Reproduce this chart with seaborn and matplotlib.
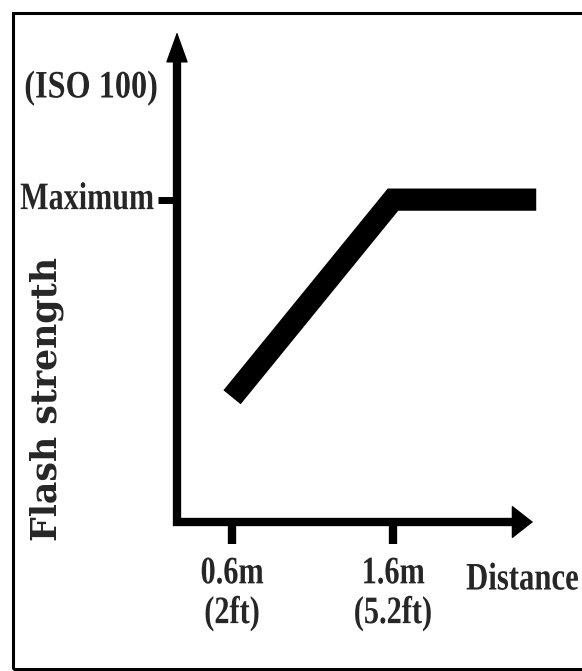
import matplotlib
matplotlib.use("Agg")
import matplotlib.pyplot as plt
import seaborn as sns
import pandas as pd
from matplotlib.patches import Rectangle
from matplotlib.patheffects import AbstractPathEffect
from matplotlib.transforms import Affine2D, blended_transform_factory

# Flash output versus subject distance (ISO 100)
distance_m = [0.6, 1.6, 2.49]
strength = [0.387, 1.0, 1.0]
tick_pos = [0.6, 1.6]
tick_labels = ["0.6m\n(2ft)", "1.6m\n(5.2ft)"]
max_level = [1.0]
max_label = ["Maximum"]
x_lim = (0.258, 2.47)
y_lim = (0.0, 1.52)


class Condensed(AbstractPathEffect):
    """Draw text glyphs narrowed horizontally, like a condensed face."""

    def __init__(self, sx=0.78, anchor="center"):
        super().__init__()
        self._sx = sx
        self._anchor = anchor

    def draw_path(self, renderer, gc, tpath, affine, rgbFace=None):
        ext = tpath.get_extents(affine)
        if self._anchor == "left":
            x0 = ext.x0
        elif self._anchor == "right":
            x0 = ext.x1
        else:
            x0 = 0.5 * (ext.x0 + ext.x1)
        squeeze = Affine2D().translate(-x0, 0).scale(self._sx, 1).translate(x0, 0)
        renderer.draw_path(gc, tpath, affine + squeeze, rgbFace)


sns.set_theme(style="white")
plt.rcParams["font.family"] = ["Liberation Serif", "DejaVu Serif"]
plt.rcParams["font.weight"] = "bold"

LABEL_SIZE = 28

fig = plt.figure(figsize=(5.82, 6.71), dpi=100)
ax = fig.add_axes([177 / 582, 149 / 671, 356 / 582, 490 / 671])

df = pd.DataFrame({"distance": distance_m, "strength": strength})
sns.lineplot(data=df, x="distance", y="strength", ax=ax, color="black",
             linewidth=16, sort=False, clip_on=False,
             solid_capstyle="butt", solid_joinstyle="miter")

ax.set_xlim(*x_lim)
ax.set_ylim(*y_lim)
for s in ax.spines.values():
    s.set_visible(False)
ax.set_xlabel("")
ax.set_ylabel("")

# L-shaped axes with arrowheads
ax.plot([0, 0, 0.96], [0.95, 0, 0], transform=ax.transAxes, color="black",
        lw=6, clip_on=False, solid_joinstyle="miter", solid_capstyle="projecting")
ax.annotate("", xy=(0, 1), xytext=(0, 0.93), xycoords="axes fraction",
            arrowprops=dict(arrowstyle="-|>,head_length=1.0,head_width=0.36",
                            mutation_scale=20, color="black", lw=1,
                            shrinkA=0, shrinkB=0))
ax.annotate("", xy=(1, 0), xytext=(0.93, 0), xycoords="axes fraction",
            arrowprops=dict(arrowstyle="-|>,head_length=0.7,head_width=0.55",
                            mutation_scale=20, color="black", lw=1,
                            shrinkA=0, shrinkB=0))

# distance ticks with metric / imperial labels
ax.set_xticks(tick_pos, tick_labels)
ax.tick_params(axis="x", length=16, width=6, color="black", pad=8,
               labelsize=LABEL_SIZE, bottom=True)
for lbl in ax.get_xticklabels():
    lbl.set_fontweight("bold")
    lbl.set_linespacing(1.1)
    lbl.set_path_effects([Condensed(0.78, "center")])

# "Maximum" level tick; its label is set flush with the left border
ax.set_yticks(max_level, [""] * len(max_level))
ax.tick_params(axis="y", length=14, width=5, color="black", left=True)
fig_y = blended_transform_factory(fig.transFigure, ax.transData)
for level, name in zip(max_level, max_label):
    ax.text(20 / 582, level, name, transform=fig_y, ha="left", va="center",
            fontsize=LABEL_SIZE, fontweight="bold",
            path_effects=[Condensed(0.775, "left")])

fig.text(24 / 582, 1 - 88 / 671, "(ISO 100)", ha="left", va="center",
         fontsize=LABEL_SIZE, fontweight="bold",
         path_effects=[Condensed(0.83, "left")])
fig.text(579 / 582, 1 - 580 / 671, "Distance", ha="right", va="center",
         fontsize=LABEL_SIZE, fontweight="bold",
         path_effects=[Condensed(0.79, "right")])
fig.text(47 / 582, 1 - 399 / 671, "Flash strength", rotation=90,
         ha="center", va="center", fontsize=25, fontweight="bold",
         family=["DejaVu Serif"])

# border around the whole chart
fig.patches.append(Rectangle((13 / 582, 2 / 671), 1.0, 656 / 671,
                             transform=fig.transFigure, fill=False,
                             lw=2.2, ec="black"))

fig.savefig("out.png", dpi=100)
